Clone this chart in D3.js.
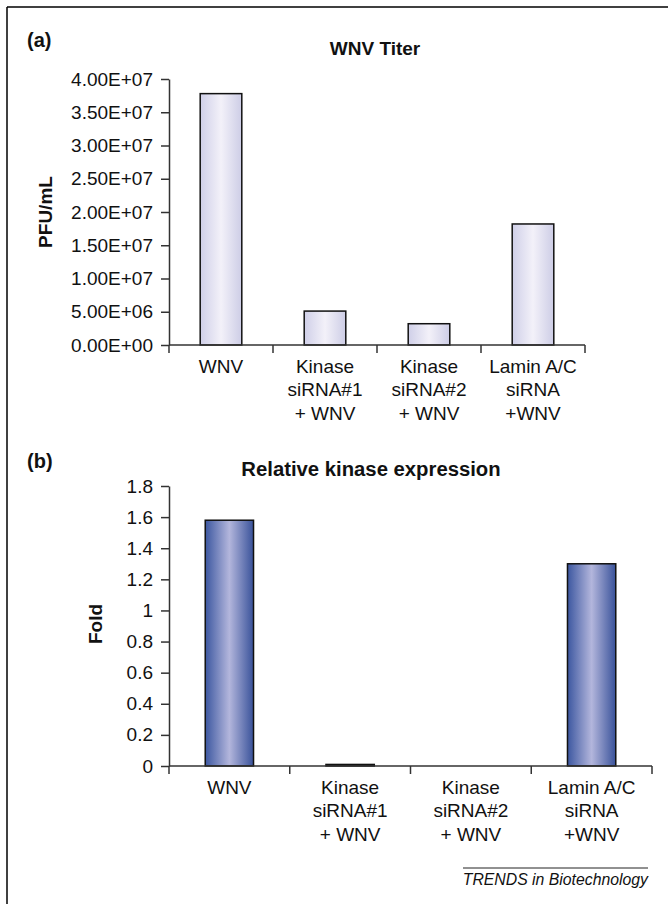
<!DOCTYPE html>
<html>
<head>
<meta charset="utf-8">
<script src="https://cdn.jsdelivr.net/npm/d3@7"></script>
<style>
  html, body { margin: 0; padding: 0; background: #fff; }
  svg { display: block; }
  text { font-family: "Liberation Sans", Arial, Helvetica, sans-serif; fill: #111; }
</style>
</head>
<body>
<svg id="chart" width="668" height="904"></svg>
<script>
// ---- Data ----
const categories = [
  ["WNV"],
  ["Kinase", "siRNA#1", "+ WNV"],
  ["Kinase", "siRNA#2", "+ WNV"],
  ["Lamin A/C", "siRNA", "+WNV"]
];
const categoryKeys = ["WNV", "Kinase siRNA#1 + WNV", "Kinase siRNA#2 + WNV", "Lamin A/C siRNA +WNV"];

const titerValues = [3.78e7, 5.1e6, 3.2e6, 1.82e7];
const titerTicks = [0, 5e6, 1e7, 1.5e7, 2e7, 2.5e7, 3e7, 3.5e7, 4e7];
const titerTickLabels = ["0.00E+00", "5.00E+06", "1.00E+07", "1.50E+07", "2.00E+07", "2.50E+07", "3.00E+07", "3.50E+07", "4.00E+07"];

const foldValues = [1.58, 0.01, 0, 1.30];
const foldTicks = [0, 0.2, 0.4, 0.6, 0.8, 1, 1.2, 1.4, 1.6, 1.8];
const foldTickLabels = ["0", "0.2", "0.4", "0.6", "0.8", "1", "1.2", "1.4", "1.6", "1.8"];

// ---- Drawing ----
const svg = d3.select("#chart");

// frame (top and left lines)
svg.append("line").attr("x1", 7).attr("y1", 7).attr("x2", 668).attr("y2", 7)
  .attr("stroke", "#000").attr("stroke-width", 1.5);
svg.append("line").attr("x1", 7).attr("y1", 7).attr("x2", 7).attr("y2", 904)
  .attr("stroke", "#000").attr("stroke-width", 1.5);

const defs = svg.append("defs");
function grad(id, edge, mid) {
  const g = defs.append("linearGradient").attr("id", id)
    .attr("x1", "0%").attr("x2", "100%").attr("y1", "0%").attr("y2", "0%");
  g.append("stop").attr("offset", "0%").attr("stop-color", edge[0]);
  g.append("stop").attr("offset", "50%").attr("stop-color", mid);
  g.append("stop").attr("offset", "100%").attr("stop-color", edge[1]);
}
grad("gradA", ["#cfcfe8", "#cdcde6"], "#f3f1f9");
grad("gradB", ["#3c57a0", "#39529a"], "#b3b6dc");

function panel(cfg) {
  const x = d3.scaleBand().domain(categoryKeys).range([cfg.x0, cfg.x1])
    .paddingInner(0.6).paddingOuter(0.3);
  const y = d3.scaleLinear().domain([0, cfg.ymax]).range([cfg.y0, cfg.y1]);
  const g = svg.append("g");

  // bars
  g.selectAll("rect.bar").data(cfg.values).join("rect")
    .attr("class", "bar")
    .attr("x", (d, i) => x(categoryKeys[i]))
    .attr("width", x.bandwidth())
    .attr("y", d => y(d))
    .attr("height", d => y(0) - y(d))
    .attr("fill", `url(#${cfg.grad})`)
    .attr("stroke", "#111")
    .attr("stroke-width", 1.5);

  // y axis
  const yAxis = d3.axisLeft(y).tickValues(cfg.ticks)
    .tickFormat((d, i) => cfg.tickLabels[i])
    .tickSize(8).tickSizeOuter(0).tickPadding(8);
  const ya = g.append("g").attr("transform", `translate(${cfg.x0},0)`).call(yAxis);
  ya.select(".domain").attr("stroke", "#333").attr("stroke-width", 1.5);
  ya.selectAll(".tick line").attr("stroke", "#333").attr("stroke-width", 1.5);
  ya.selectAll(".tick text").attr("font-size", 19).attr("fill", "#111")
    .style("font-family", '"Liberation Sans", Arial, sans-serif');

  // x axis (line + boundary ticks)
  g.append("line").attr("x1", cfg.x0).attr("x2", cfg.x1)
    .attr("y1", y(0)).attr("y2", y(0))
    .attr("stroke", "#333").attr("stroke-width", 1.5);
  const bounds = d3.range(categoryKeys.length + 1).map(i => cfg.x0 + i * x.step());
  g.selectAll("line.xt").data(bounds).join("line")
    .attr("class", "xt")
    .attr("x1", d => d).attr("x2", d => d)
    .attr("y1", y(0)).attr("y2", y(0) + 8)
    .attr("stroke", "#333").attr("stroke-width", 1.5);

  // category labels
  categories.forEach((lines, i) => {
    const cx = x(categoryKeys[i]) + x.bandwidth() / 2;
    const t = g.append("text").attr("text-anchor", "middle").attr("font-size", 19);
    lines.forEach((ln, j) => {
      t.append("tspan").attr("x", cx).attr("y", cfg.labelY + j * 23.3).text(ln);
    });
  });

  // title
  g.append("text").attr("x", cfg.titleX).attr("y", cfg.titleY)
    .attr("text-anchor", "middle").attr("font-size", cfg.titleSize)
    .attr("font-weight", "bold").text(cfg.title);

  // panel letter
  g.append("text").attr("x", 27).attr("y", cfg.letterY)
    .attr("font-size", 20).attr("font-weight", "bold").text(cfg.letter);

  // y label
  g.append("text")
    .attr("transform", `translate(${cfg.ylabX},${cfg.ylabY}) rotate(-90)`)
    .attr("text-anchor", "middle").attr("font-size", 19)
    .attr("font-weight", "bold").text(cfg.ylabel);
}

panel({
  x0: 169, x1: 585, y0: 345, y1: 79, ymax: 4e7,
  values: titerValues, ticks: titerTicks, tickLabels: titerTickLabels,
  grad: "gradA", labelY: 373,
  title: "WNV Titer", titleX: 375, titleY: 55, titleSize: 19,
  letter: "(a)", letterY: 47,
  ylabel: "PFU/mL", ylabX: 52, ylabY: 212
});

panel({
  x0: 169, x1: 652, y0: 766, y1: 486, ymax: 1.8,
  values: foldValues, ticks: foldTicks, tickLabels: foldTickLabels,
  grad: "gradB", labelY: 794,
  title: "Relative kinase expression", titleX: 371, titleY: 476, titleSize: 20.3,
  letter: "(b)", letterY: 468,
  ylabel: "Fold", ylabX: 102, ylabY: 624
});

// footer
svg.append("line").attr("x1", 463).attr("x2", 648).attr("y1", 868).attr("y2", 868)
  .attr("stroke", "#222").attr("stroke-width", 1);
svg.append("text").attr("x", 648).attr("y", 885).attr("text-anchor", "end")
  .attr("font-size", 15.8).attr("font-style", "italic").text("TRENDS in Biotechnology");
</script>
</body>
</html>
